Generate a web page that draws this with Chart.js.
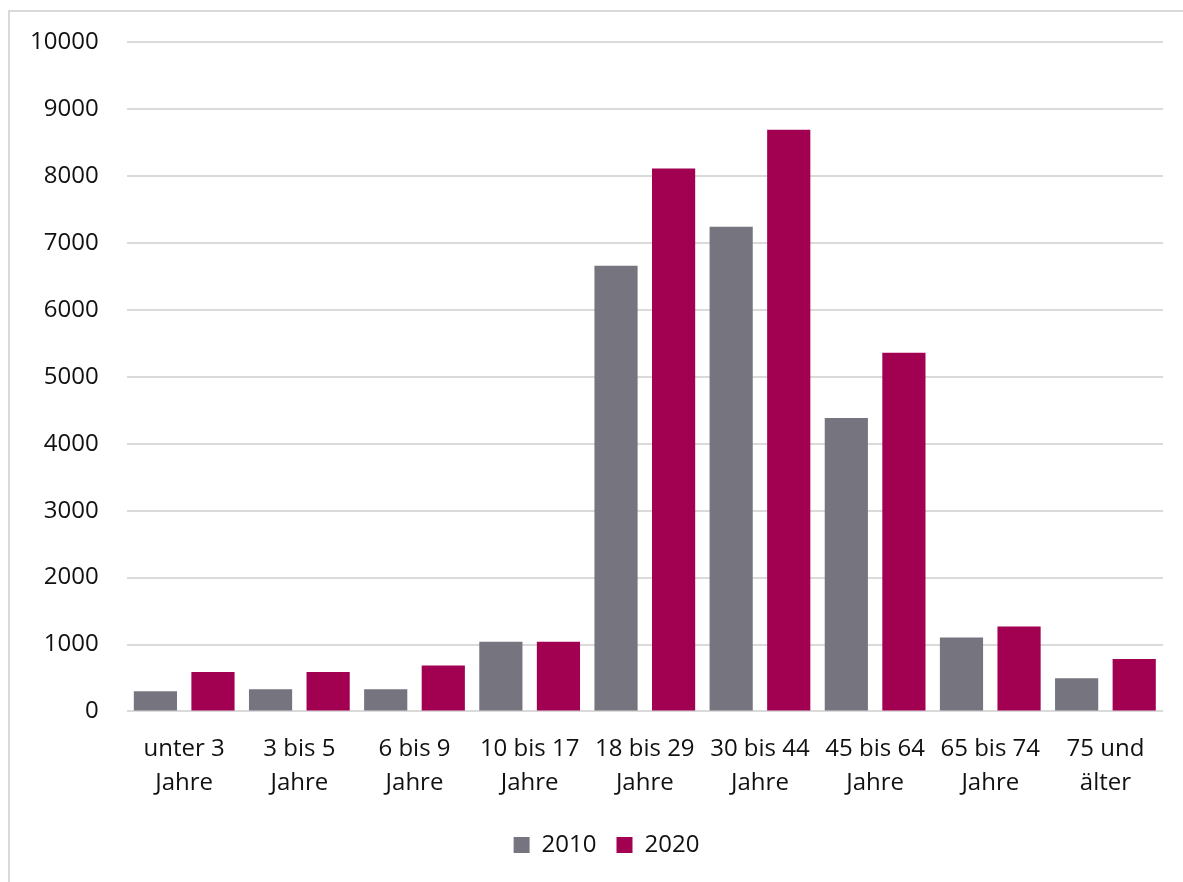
<!DOCTYPE html>
<html>
<head>
<meta charset="utf-8">
<script src="https://cdn.jsdelivr.net/npm/chart.js@4"></script>
<style>
  html, body { margin: 0; padding: 0; background: #fff; }
  #wrap { position: relative; width: 1183px; height: 882px; overflow: hidden; }
  #frame { position: absolute; left: 8px; top: 10px; width: 1200px; height: 900px; border: 2px solid #d9d9d9; box-sizing: border-box; }
  #chart { position: absolute; left: 0; top: 0; }
</style>
</head>
<body>
<div id="wrap">
  <div id="frame"></div>
  <canvas id="chart" width="1183" height="882"></canvas>
</div>
<script>
const categories = [
  ["unter 3", "Jahre"],
  ["3 bis 5", "Jahre"],
  ["6 bis 9", "Jahre"],
  ["10 bis 17", "Jahre"],
  ["18 bis 29", "Jahre"],
  ["30 bis 44", "Jahre"],
  ["45 bis 64", "Jahre"],
  ["65 bis 74", "Jahre"],
  ["75 und", "älter"],
];
const values2010 = [300, 330, 330, 1040, 6660, 7245, 4385, 1105, 495];
const values2020 = [590, 590, 685, 1040, 8115, 8695, 5360, 1270, 785];

const font = { family: "'Open Sans', sans-serif", size: 24 };

// legend sits a bit right of the canvas centre in the original
const legendShift = {
  id: "legendShift",
  afterLayout(chart) {
    chart.legend.left += 24;
    chart.legend.right += 24;
  },
};

const ctx = document.getElementById("chart").getContext("2d");
new Chart(ctx, {
  type: "bar",
  data: {
    labels: categories,
    datasets: [
      {
        label: "2010",
        data: values2010,
        backgroundColor: "#76757f",
        barPercentage: 0.75,
        categoryPercentage: 1.0,
      },
      {
        label: "2020",
        data: values2020,
        backgroundColor: "#a20050",
        barPercentage: 0.75,
        categoryPercentage: 1.0,
      },
    ],
  },
  options: {
    responsive: false,
    animation: false,
    layout: { padding: { top: 31, right: 20, left: 2, bottom: 15 } },
    plugins: {
      tooltip: { enabled: false },
      legend: {
        position: "bottom",
        labels: {
          font,
          color: "#111",
          boxWidth: 16,
          boxHeight: 16,
          padding: 20,
        },
      },
    },
    scales: {
      x: {
        grid: { display: false },
        border: { display: false },
        ticks: { font: { ...font, lineHeight: 1.45 }, color: "#111", maxRotation: 0, padding: 12 },
      },
      y: {
        min: 0,
        max: 10000,
        border: { display: false },
        grid: { color: "#dadada", lineWidth: 2, drawTicks: false },
        ticks: {
          stepSize: 1000,
          font,
          color: "#111",
          padding: 28,
          callback: (v) => String(v),
        },
      },
    },
  },
  plugins: [legendShift],
});
</script>
</body>
</html>
